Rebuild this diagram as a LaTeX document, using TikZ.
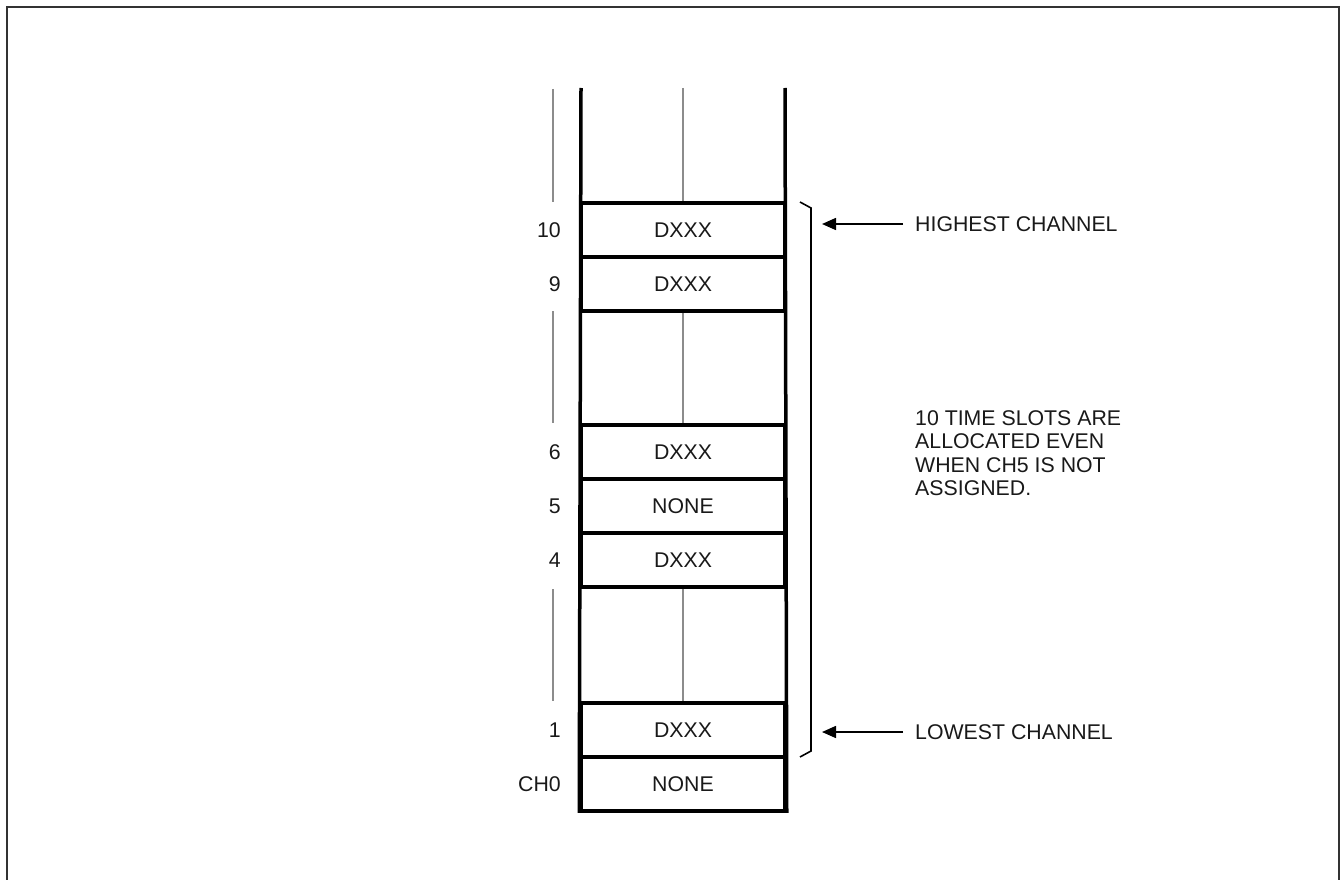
\documentclass[tikz,border=0pt]{standalone}
\usepackage{fontspec}
\setmainfont{Liberation Sans}
\usetikzlibrary{arrows.meta}
\begin{document}
\begin{tikzpicture}[x=1pt,y=-1pt,
  txt/.style={font=\fontsize{21.3}{23.5}\selectfont, text=black!90},
  cell/.style={draw, line width=3.5pt, minimum width=204pt, minimum height=54pt, inner sep=0pt, txt},
  lbl/.style={anchor=east, inner sep=0pt, txt},
  gline/.style={draw=black!45, line width=1.6pt},
  side/.style={line width=3.5pt},
  brace/.style={line width=1.6pt},
  arr/.style={line width=1.6pt, -{Triangle[length=14pt,width=12pt]}}]
\useasboundingbox (0,0) rectangle (1341,880);
\draw[line width=2pt, black!80] (7,882) -- (7,7) -- (1339,7) -- (1339,882);
% cells
\node[cell] (c10) at (683,230) {DXXX};
\node[cell] (c9)  at (683,284) {DXXX};
\node[cell] (c6)  at (683,452) {DXXX};
\node[cell] (c5)  at (683,506) {NONE};
\node[cell] (c4)  at (683,560) {DXXX};
\node[cell] (c1)  at (683,730) {DXXX};
\node[cell] (c0)  at (683,784) {NONE};
% column sides
\coordinate (tl) at (581,88);
\coordinate (tr) at (785,88);
\coordinate (tm) at (683,88);
\draw[side] (tl) -- (c0.south west);
\draw[side] (tr) -- (c0.south east);
% middle gray dividers in gaps
\draw[gline] (tm) -- (c10.north);
\draw[gline] (c9.south) -- (c6.north);
\draw[gline] (c4.south) -- (c1.north);
% left gray lines
\coordinate (g1a) at (553,89);  \coordinate (g1b) at (553,202);
\coordinate (g2a) at (553,311); \coordinate (g2b) at (553,423);
\coordinate (g3a) at (553,589); \coordinate (g3b) at (553,701);
\draw[gline] (g1a) -- (g1b);
\draw[gline] (g2a) -- (g2b);
\draw[gline] (g3a) -- (g3b);
% labels
\node[lbl] (l10) at (561,230) {10};
\node[lbl] (l9)  at (561,284) {9};
\node[lbl] (l6)  at (561,452) {6};
\node[lbl] (l5)  at (561,506) {5};
\node[lbl] (l4)  at (561,560) {4};
\node[lbl] (l1)  at (561,730) {1};
\node[lbl] (l0)  at (561,784) {CH0};
% brace
\coordinate (b1) at (800,202);
\coordinate (b2) at (811,208);
\coordinate (b3) at (811,751);
\coordinate (b4) at (800,757);
\draw[brace] (b1) -- (b2) -- (b3) -- (b4);
% arrows and texts
\node[txt, anchor=west, inner xsep=12pt, inner ysep=0pt] (hi) at (903,224) {HIGHEST CHANNEL};
\node[txt, anchor=west, inner xsep=12pt, inner ysep=0pt] (lo) at (903,732) {LOWEST CHANNEL};
\coordinate (hiend) at (822,224);
\coordinate (loend) at (822,732);
\draw[arr] (hi.west) -- (hiend);
\draw[arr] (lo.west) -- (loend);
\node[txt, anchor=north west, align=left, inner sep=0pt] (note) at (915,410)
  {10 TIME SLOTS ARE\\ALLOCATED EVEN\\WHEN CH5 IS NOT\\ASSIGNED.};
\end{tikzpicture}
\end{document}
